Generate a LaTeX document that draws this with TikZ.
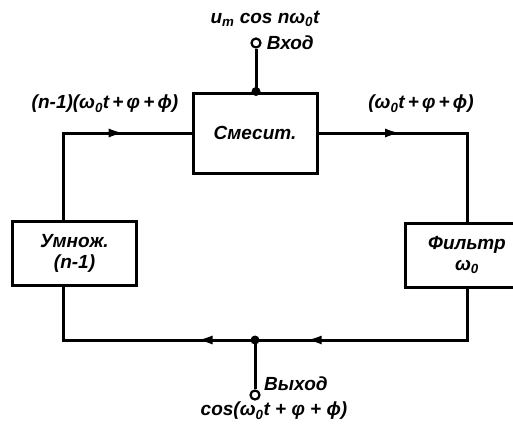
\documentclass[tikz,border=0pt]{standalone}
\usepackage{fontspec}
\setmainfont{Liberation Sans}
\usetikzlibrary{arrows.meta,decorations.markings,positioning}
\newcommand{\wnull}{ω\textsubscript{0}}
\tikzset{
  wire/.style={black, line width=3pt},
  blk/.style={draw, line width=3pt, minimum width=124pt, minimum height=64pt, align=center, inner sep=2pt},
  term/.style={circle, draw, line width=2.2pt, fill=white, minimum size=9pt, inner sep=0pt},
  jdot/.style={circle, fill=black, minimum size=9pt, inner sep=0pt},
  lbl/.style={font=\fontsize{19}{21}\selectfont\bfseries\itshape, inner sep=1pt, align=center},
  midarr/.style={postaction={decorate}, decoration={markings,
      mark=at position #1 with {\arrow[line width=1pt]{Latex[length=14pt,width=9pt]}}}},
}
\begin{document}
\begin{tikzpicture}[x=1pt, y=-1pt]
  \clip (0,0) rectangle (513,431);
  % blocks
  \node[blk, minimum height=80pt, lbl] (mix) at (255,133) {Смесит.};
  \node[blk, lbl] (mult) at (74.5,253) {Умнож.\\(n-1)};
  \node[blk, lbl] (filt) at (467,255) {Фильтр\\\wnull};
  % terminals and corners
  \node[term] (vin) at (256,43) {};
  \node[term] (vout) at (255,395) {};
  \coordinate (cl) at (63,133);
  \coordinate (cr) at (467,133);
  \coordinate (bj) at (255,340);
  \coordinate (tj) at (vin |- mix.north);
  % connectors
  \draw[wire, midarr=0.68] (cl |- mult.north) -- (cl) -- (mix.west);
  \draw[wire, midarr=0.34] (mix.east) -- (cr) -- (filt.north);
  \draw[wire, midarr=0.8] (filt.south) -- (cr |- bj) -- (bj);
  \draw[wire, midarr=0.23] (bj) -- (cl |- bj) -- (cl |- mult.south);
  \draw[wire] (vin) -- (tj);
  \draw[wire] (bj) -- (vout);
  \node[jdot] (jtop) at (tj) {};
  \node[jdot] (jbot) at (bj) {};
  % texts
  \node[lbl] (tin) at (265,19) {u\textsubscript{m} cos n\wnull t};
  \node[lbl, right=4pt of vin] (vinl) {Вход};
  \node[lbl] (tl) at (105,104) {(n-1)(\wnull t\,+\,φ\,+\,ϕ)};
  \node[lbl] (tr) at (421,104) {(\wnull t\,+\,φ\,+\,ϕ)};
  \node[lbl, anchor=west] (voutl) at (263,384) {Выход};
  \node[lbl] (tout) at (274,411) {cos(\wnull t + φ + ϕ)};
\end{tikzpicture}
\end{document}
